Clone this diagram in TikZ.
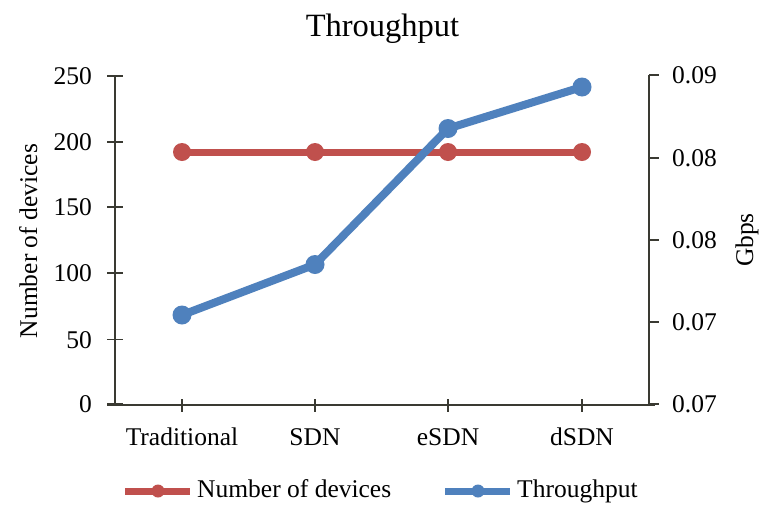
\documentclass[tikz,border=0pt]{standalone}
\usepackage{fontspec}
\setmainfont{Liberation Serif}
\definecolor{devred}{HTML}{C0504D}
\definecolor{tpblue}{HTML}{4F81BD}
\definecolor{axisgray}{HTML}{3A3A32}
\tikzset{
  lbl/.style={font=\fontsize{25.5}{30}\selectfont, inner sep=0pt},
  ttl/.style={font=\fontsize{32.5}{38}\selectfont, inner sep=0pt},
  axisline/.style={draw=axisgray, line width=2pt},
  tickline/.style={draw=axisgray, line width=1.6pt},
  devline/.style={draw=devred, line width=7pt, line join=round},
  tpline/.style={draw=tpblue, line width=8pt, line join=round},
  devmark/.style={fill=devred},
  tpmark/.style={fill=tpblue}
}
\begin{document}
\begin{tikzpicture}[x=1pt, y=-1pt]
\useasboundingbox[fill=white] (0,0) rectangle (760,509);

% title
\node[ttl, anchor=base] (title) at (382.5,36) {Throughput};

% axes
\coordinate (lt) at (115,76);
\coordinate (lb) at (115,405);
\coordinate (rt) at (649,75);
\coordinate (rb) at (649,405);
\coordinate (bl) at (107,405);
\coordinate (br) at (655,405);
\draw[axisline] (lt) -- (lb);
\draw[axisline] (rt) -- (rb);
\draw[axisline] (bl) -- (br);

% left axis ticks and labels
\foreach \v/\yy in {0/404,50/339.5,100/273,150/207,200/141.7,250/76} {
  \draw[tickline] (107,\yy) -- (123,\yy);
  \node[lbl, anchor=base east] (l\v) at (92,\yy+8.5) {\v};
}

% right axis ticks and labels
\foreach \t/\yy/\n in {0.07/404/a,0.07/322/b,0.08/240/c,0.08/158/d,0.09/75/e} {
  \draw[tickline] (649,\yy) -- (659,\yy);
  \node[lbl, anchor=base west] (r\n) at (672,\yy+8.5) {\t};
}

% category ticks and labels
\foreach \x/\c in {182/Traditional,315/SDN,448/eSDN,582/dSDN} {
  \draw[tickline] (\x,399) -- (\x,412);
  \node[lbl, anchor=base] (c\c) at (\x,445) {\c};
}

% axis titles
\node[lbl, rotate=90, anchor=base] (ylab) at (37,241) {Number of devices};
\node[lbl, rotate=90, anchor=base] (y2lab) at (753,240) {Gbps};

% data points
\coordinate (d1) at (182,152);
\coordinate (d2) at (315,152);
\coordinate (d3) at (448,152);
\coordinate (d4) at (582,152);
\coordinate (t1) at (182,315);
\coordinate (t2) at (315,264.5);
\coordinate (t3) at (448,128.5);
\coordinate (t4) at (582,87);

% number of devices series
\draw[devline] (d1) -- (d2) -- (d3) -- (d4);
\foreach \p in {d1,d2,d3,d4} \fill[devmark] (\p) circle (9);

% throughput series
\draw[tpline] (t1) -- (t2) -- (t3) -- (t4);
\foreach \p in {t1,t2,t3,t4} \fill[tpmark] (\p) circle (9.5);

% legend
\coordinate (ldA) at (125,491);
\coordinate (ldB) at (190,491);
\coordinate (ldM) at (158,491);
\draw[devred, line width=7pt] (ldA) -- (ldB);
\fill[devmark] (ldM) circle (6.5);
\node[lbl, anchor=base west] (legdev) at (197,497) {Number of devices};

\coordinate (ltA) at (445,491);
\coordinate (ltB) at (510,491);
\coordinate (ltM) at (478,491);
\draw[tpblue, line width=7pt] (ltA) -- (ltB);
\fill[tpmark] (ltM) circle (6.5);
\node[lbl, anchor=base west] (legtp) at (517,497) {Throughput};
\end{tikzpicture}
\end{document}
